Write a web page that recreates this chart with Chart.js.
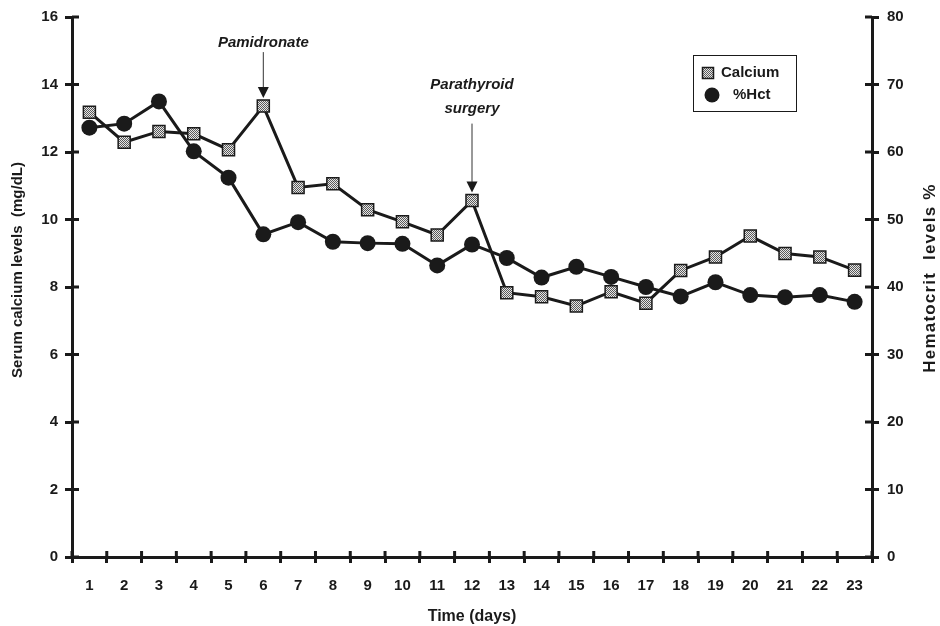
<!DOCTYPE html>
<html lang="en">
<head>
  <meta charset="UTF-8" />
  <title>Serum calcium and hematocrit</title>
  <script src="https://cdn.jsdelivr.net/npm/chart.js"></script>
  <style>
    html, body {
      margin: 0;
      padding: 0;
      background: #ffffff;
    }
    .wrap {
      width: 940px;
      height: 626px;
      position: relative;
    }
  </style>
</head>
<body>
  <div class="wrap">
    <canvas id="chart"></canvas>
  </div>

  <script>
    // values
    const days = ['1', '2', '3', '4', '5', '6', '7', '8', '9', '10', '11', '12',
                  '13', '14', '15', '16', '17', '18', '19', '20', '21', '22', '23'];
    const calcium = [13.18, 12.29, 12.61, 12.54, 12.07, 13.36, 10.95, 11.06, 10.29, 9.93, 9.54, 10.56,
                     7.83, 7.71, 7.44, 7.86, 7.52, 8.49, 8.89, 9.51, 8.99, 8.89, 8.50];
    const hct = [63.6, 64.2, 67.5, 60.1, 56.2, 47.8, 49.6, 46.7, 46.5, 46.4, 43.2, 46.3,
                 44.3, 41.4, 43.0, 41.5, 40.0, 38.6, 40.7, 38.8, 38.5, 38.8, 37.8];
    const calciumTicks = [0, 2, 4, 6, 8, 10, 12, 14, 16];
    const hctTicks = [0, 10, 20, 30, 40, 50, 60, 70, 80];
    const eventDays = ['6', '12'];
    const eventText = [['Pamidronate'], ['Parathyroid', 'surgery']];

    const INK = '#1a1a1a';
    const SANS = '"Liberation Sans", Arial, sans-serif';

    // little grey checker used inside the calcium squares
    function checker() {
      const c = document.createElement('canvas');
      c.width = 2; c.height = 2;
      const g = c.getContext('2d');
      g.fillStyle = '#e6e6e6';
      g.fillRect(0, 0, 2, 2);
      g.fillStyle = '#5a5a5a';
      g.fillRect(0, 0, 1, 1);
      g.fillRect(1, 1, 1, 1);
      return g.createPattern(c, 'repeat');
    }
    const squareFill = checker();

    function drawSquare(ctx, x, y, side) {
      ctx.fillStyle = squareFill;
      ctx.fillRect(x - side / 2, y - side / 2, side, side);
      ctx.lineWidth = 1.5;
      ctx.strokeStyle = INK;
      ctx.strokeRect(x - side / 2, y - side / 2, side, side);
    }

    // ticks in the reference cross the axis lines, Chart.js only draws the outer half
    const innerTicks = {
      id: 'innerTicks',
      afterDraw(chart) {
        const { ctx, scales } = chart;
        ctx.save();
        ctx.strokeStyle = INK;
        ctx.lineWidth = 3;
        ctx.beginPath();
        scales.y.ticks.forEach(t => {
          const py = scales.y.getPixelForValue(t.value);
          ctx.moveTo(scales.y.right, py);
          ctx.lineTo(scales.y.right + 7, py);
        });
        scales.y1.ticks.forEach(t => {
          const py = scales.y1.getPixelForValue(t.value);
          ctx.moveTo(scales.y1.left, py);
          ctx.lineTo(scales.y1.left - 7, py);
        });
        for (let i = 0; i <= days.length; i++) {
          const px = scales.x.getPixelForValue(i - 0.5);
          ctx.moveTo(px, scales.x.top);
          ctx.lineTo(px, scales.x.top - 6);
        }
        ctx.stroke();
        ctx.restore();
      }
    };

    // axis titles drawn by hand: the right one reads bottom-to-top in the reference
    const axisTitles = {
      id: 'axisTitles',
      afterDraw(chart) {
        const { ctx, scales } = chart;
        ctx.save();
        ctx.fillStyle = INK;
        ctx.textAlign = 'center';
        ctx.textBaseline = 'middle';

        ctx.font = 'bold 15px ' + SANS;
        ctx.translate(scales.y.left + 18, 270);
        ctx.rotate(-Math.PI / 2);
        ctx.fillText('Serum calcium levels  (mg/dL)', 0, 0);
        ctx.restore();

        ctx.save();
        ctx.fillStyle = INK;
        ctx.textAlign = 'center';
        ctx.textBaseline = 'middle';
        ctx.font = 'bold 17px ' + SANS;
        ctx.letterSpacing = '1.2px';
        ctx.translate(scales.y1.right - 10, 278);
        ctx.rotate(-Math.PI / 2);
        ctx.fillText('Hematocrit  levels %', 0, 0);
        ctx.restore();
      }
    };

    const notes = {
      id: 'notes',
      afterDatasetsDraw(chart) {
        const { ctx, scales } = chart;
        ctx.save();
        ctx.font = 'italic bold 15px ' + SANS;
        ctx.fillStyle = INK;
        ctx.textAlign = 'center';
        ctx.textBaseline = 'middle';
        eventDays.forEach((d, e) => {
          const i = days.indexOf(d);
          const lines = eventText[e];
          const px = scales.x.getPixelForValue(i);
          const tip = scales.y.getPixelForValue(calcium[i]) - 8;
          const gap = lines.length > 1 ? 84 : 55;
          const lastY = tip - gap;
          lines.forEach((txt, k) => ctx.fillText(txt, px, lastY - 24 * (lines.length - 1 - k)));
          ctx.strokeStyle = '#333';
          ctx.lineWidth = 1;
          ctx.beginPath();
          ctx.moveTo(px, lastY + (lines.length > 1 ? 15 : 9));
          ctx.lineTo(px, tip - 9);
          ctx.stroke();
          ctx.beginPath();
          ctx.moveTo(px - 5.5, tip - 11);
          ctx.lineTo(px + 5.5, tip - 11);
          ctx.lineTo(px, tip);
          ctx.closePath();
          ctx.fill();
        });

        // legend box
        ctx.fillStyle = '#fff';
        ctx.fillRect(693, 55, 103, 56);
        ctx.strokeStyle = INK;
        ctx.lineWidth = 1;
        ctx.strokeRect(693.5, 55.5, 103, 56);
        drawSquare(ctx, 708, 73, 11);
        ctx.fillStyle = INK;
        ctx.beginPath();
        ctx.arc(712, 95, 7.5, 0, Math.PI * 2);
        ctx.fill();
        ctx.font = 'bold 15px ' + SANS;
        ctx.textAlign = 'left';
        ctx.fillText('Calcium', 721, 73);
        ctx.fillText('%Hct', 733, 95);
        ctx.restore();
      }
    };

    const tickFont = { family: SANS, size: 15, weight: 'bold' };

    new Chart(document.getElementById('chart'), {
      type: 'line',
      data: {
        labels: days,
        datasets: [
          {
            label: 'Calcium',
            data: calcium,
            yAxisID: 'y',
            borderColor: INK,
            borderWidth: 3,
            pointStyle: 'rect',
            pointRadius: 8.5,
            pointBorderWidth: 1.5,
            pointBorderColor: INK,
            pointBackgroundColor: squareFill,
            tension: 0
          },
          {
            label: '%Hct',
            data: hct,
            yAxisID: 'y1',
            borderColor: INK,
            borderWidth: 3,
            pointStyle: 'circle',
            pointRadius: 8,
            pointBorderWidth: 0,
            pointBackgroundColor: INK,
            tension: 0
          }
        ]
      },
      options: {
        responsive: true,
        maintainAspectRatio: false,
        animation: false,
        layout: { padding: { top: 15 } },
        plugins: {
          legend: { display: false },
          tooltip: { enabled: false }
        },
        scales: {
          x: {
            offset: true,
            grid: { offset: true, drawOnChartArea: false, color: INK, lineWidth: 3, tickLength: 6 },
            border: { color: INK, width: 3 },
            ticks: {
              color: INK,
              font: tickFont,
              padding: 14,
              maxRotation: 0,
              autoSkip: false
            },
            title: {
              display: true,
              text: 'Time (days)',
              color: INK,
              font: { family: SANS, size: 16, weight: 'bold' },
              padding: { top: 0, bottom: 0 }
            },
            afterFit: s => { s.height = 69; }
          },
          y: {
            position: 'left',
            min: 0,
            max: 16,
            afterBuildTicks: s => { s.ticks = calciumTicks.map(v => ({ value: v })); },
            grid: { drawOnChartArea: false, color: INK, lineWidth: 3, tickLength: 7 },
            border: { color: INK, width: 3 },
            ticks: { color: INK, font: tickFont, padding: 7 },
            title: {
              display: true,
              text: 'Serum calcium levels  (mg/dL)',
              color: 'rgba(0,0,0,0)',
              font: { family: SANS, size: 15, weight: 'bold' },
              padding: { top: 9, bottom: 0 }
            },
            afterFit: s => { s.width = 72; }
          },
          y1: {
            position: 'right',
            min: 0,
            max: 80,
            afterBuildTicks: s => { s.ticks = hctTicks.map(v => ({ value: v })); },
            grid: { drawOnChartArea: false, color: INK, lineWidth: 3, tickLength: 7 },
            border: { color: INK, width: 3 },
            ticks: { color: INK, font: tickFont, padding: 8 },
            title: {
              display: true,
              text: 'Hematocrit  levels %',
              color: 'rgba(0,0,0,0)',
              font: { family: SANS, size: 15, weight: 'bold' },
              padding: { top: 0, bottom: 0 }
            },
            afterFit: s => { s.width = 68; }
          }
        }
      },
      plugins: [innerTicks, axisTitles, notes]
    });
  </script>
</body>
</html>
